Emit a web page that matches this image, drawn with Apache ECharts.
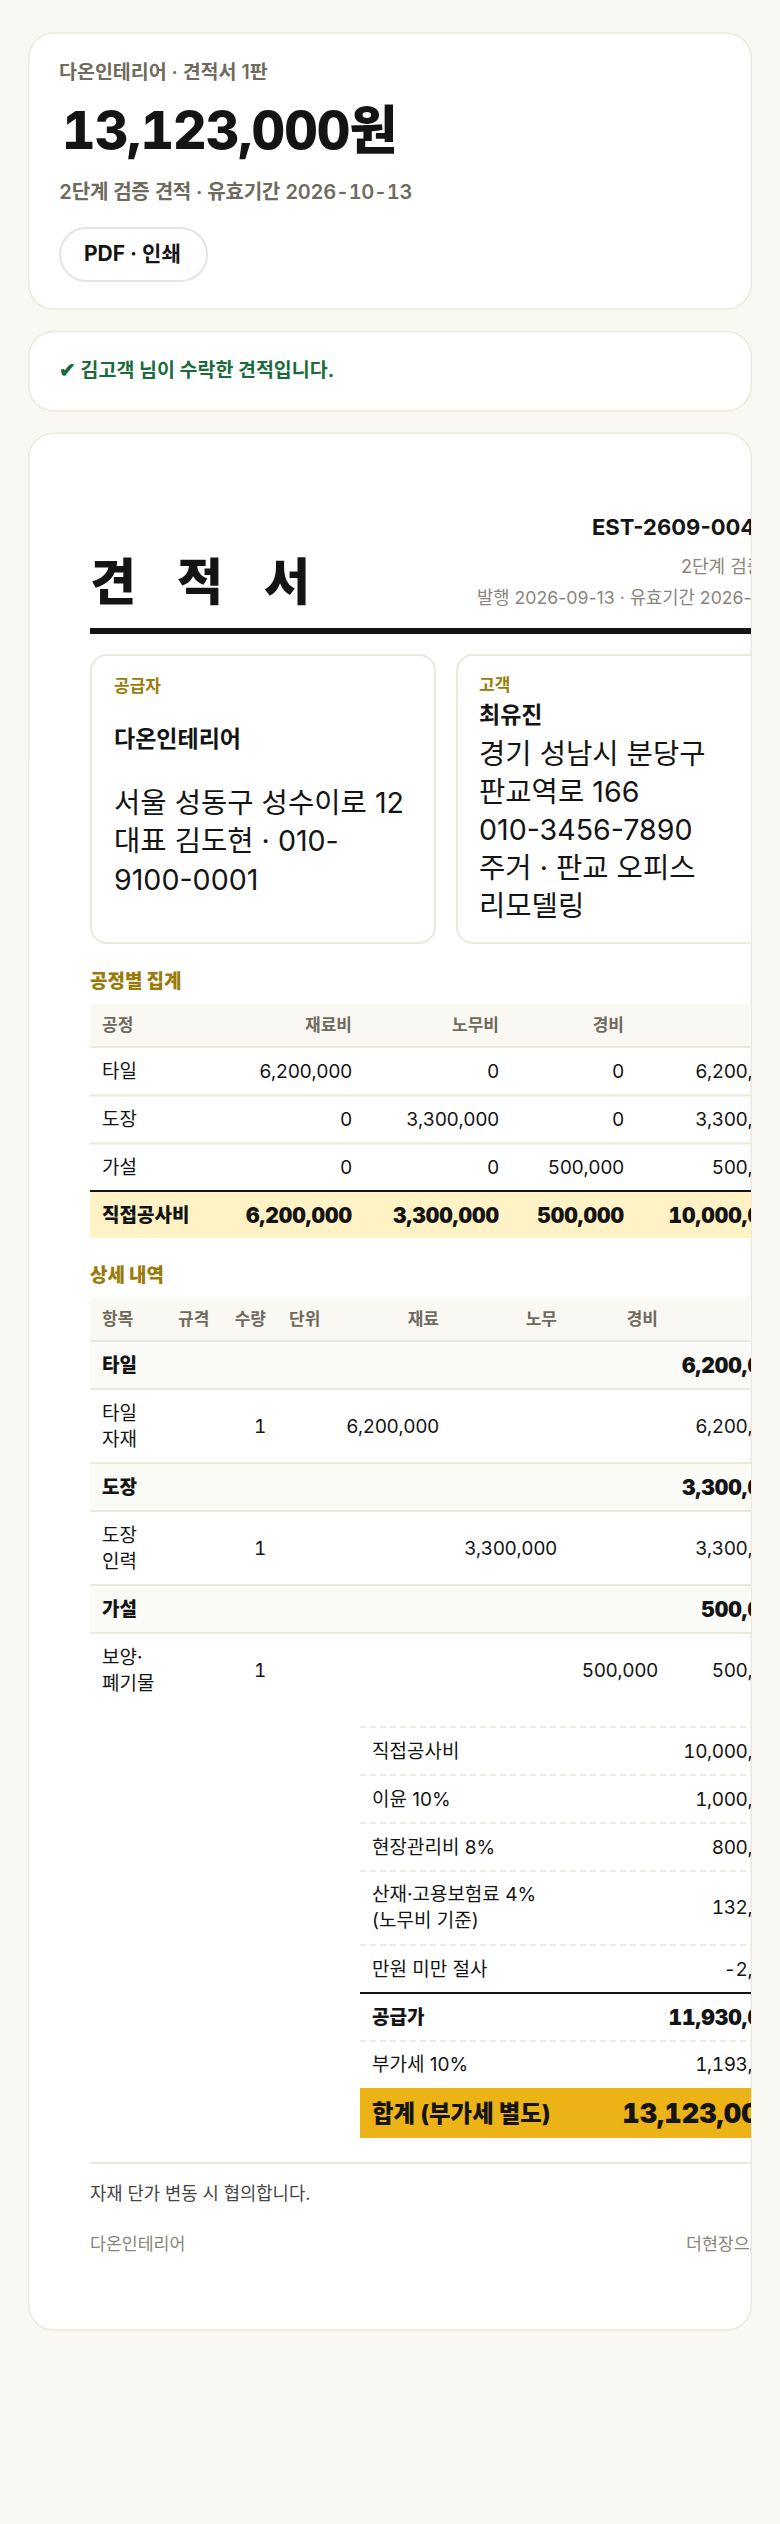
<!DOCTYPE html>
<html lang="ko">
<head>
<meta charset="utf-8">
<title>견적서</title>
<script src="https://cdn.jsdelivr.net/npm/echarts@6/dist/echarts.min.js"></script>
<style>
html,body{margin:0;padding:0;background:#f9f8f3}
#main{width:780px;height:2524px}
/* 금액만 고정폭 숫자 */
#main svg text[style*="Roboto"]{font-variant-numeric:tabular-nums !important;font-feature-settings:"tnum" !important}
#main svg text[style*="Roboto"][style*="19px"]{letter-spacing:-.4px}
#main svg text[style*="Roboto"][style*="52px"]{letter-spacing:-.9px}
#main svg text[style*="Roboto"][style*="20.1px"]{letter-spacing:-.3px}
</style>
</head>
<body>
<div id="main"></div>
<script>
// 공정별 집계
var processNames = ['타일', '도장', '가설'];
var materialCost = [6200000, 0, 0];
var laborCost = [0, 3300000, 0];
var expenseCost = [0, 0, 500000];
var processTotal = [6200000, 3300000, 500000];
var directTotal = [6200000, 3300000, 500000, 10000000];
var summaryHead = ['공정', '재료비', '노무비', '경비', '합계'];

// 상세 내역
var detailHead = ['항목', '규격', '수량', '단위', '재료', '노무', '경비', '금액'];
var detailItems = [['타일', '자재'], ['도장', '인력'], ['보양·', '폐기물']];
var detailQty = [1, 1, 1];

// 합계 계산
var costLabels = [['직접공사비'], ['이윤 10%'], ['현장관리비 8%'], ['산재·고용보험료 4%', '(노무비 기준)'], ['만원 미만 절사']];
var costValues = [10000000, 1000000, 800000, 132000, -2000];
var supplyPrice = 11930000;
var vatAmount = 1193000;
var grandTotal = 13123000;

// 문서 텍스트
var supplierLines = ['서울 성동구 성수이로 12', '대표 김도현 · 010-', '9100-0001'];
var clientLines = ['경기 성남시 분당구', '판교역로 166', '010-3456-7890', '주거 · 판교 오피스', '리모델링'];
var titleChars = ['견', '적', '서'];

var FONT = 'Inter, "Noto Sans CJK KR", sans-serif';
var NUMFONT = 'Inter, "Noto Sans CJK KR", Roboto';
var INK = '#141414', MUTED = '#6f6a5e', SOFT = '#8a857a', GOLD = '#9a7b0a', LINE = '#ece8df';

function won(v){ return v.toLocaleString('en-US') }

var cells = [];
function text(x, y, str, weight, size, color, align){
    cells.push({t:'text', x:x, y:y, str:str, font:weight+' '+size+'px '+FONT, color:color, align:align||'left'});
}
function num(x, y, str, weight, size, color, align){
    cells.push({t:'text', x:x, y:y, str:str, font:weight+' '+size+'px '+NUMFONT, color:color, align:align||'right'});
}
function rect(x, y, x2, y2, fill){
    cells.push({t:'rect', x:x, y:y, x2:x2, y2:y2, fill:fill, stroke:null});
}
function box(x, y, x2, y2, r, fill, stroke){
    cells.push({t:'rect', x:x, y:y, x2:x2, y2:y2, r:r, fill:fill, stroke:stroke});
}
function hline(x, y, x2, color, width, dash){
    cells.push({t:'line', x:x, y:y, x2:x2, y2:y, color:color, width:width, dash:dash});
}

// 상단 카드
text(59, 72, '다온인테리어 · 견적서 1판', 600, 19.5, MUTED);
num(62, 130, won(grandTotal)+'원', 800, 52, INK, 'left');
num(59, 192, '2단계 검증 견적 · 유효기간 2026-10-13', 600, 20.1, MUTED, 'left');
box(60, 228, 207, 281, 26.5, '#fff', '#e6e4df');
text(84, 253, 'PDF · 인쇄', 700, 21, INK);
text(59, 370, '✔ 김고객 님이 수락한 견적입니다.', 700, 19.5, '#1a6b3c');

// 문서 머리
text(592, 527, 'EST-2609-0041', 700, 22, INK);
text(681, 566, '2단계 검증 견적', 400, 18, SOFT);
text(477, 597, '발행 2026-09-13 · 유효기간 2026-10-13', 400, 17.7, SOFT);
titleChars.forEach(function(c, i){ text(90 + i*87, 582, c, 900, 50, INK) });
rect(90, 628, 790, 634, INK);

// 공급자, 고객
box(91, 655, 435, 943, 16, '#fff', LINE);
box(457, 655, 802, 943, 16, '#fff', LINE);
text(114, 686, '공급자', 600, 17, GOLD);
text(114, 739, '다온인테리어', 700, 23, INK);
supplierLines.forEach(function(s, i){ text(114, 802 + i*38.5, s, 400, 28.6, INK) });
text(479, 685, '고객', 600, 17, GOLD);
text(479, 715, '최유진', 700, 23, INK);
clientLines.forEach(function(s, i){ text(479, 753 + i*38, s, 400, 28.6, INK) });

// 공정별 집계
var sumRight = [352, 499, 624, 788];
text(90, 981, '공정별 집계', 800, 19, GOLD);
rect(90, 1004, 790, 1046, '#f9f8f3');
hline(90, 1047, 790, LINE, 2);
text(102, 1025, summaryHead[0], 600, 17, MUTED);
sumRight.forEach(function(r, i){ text(r, 1025, summaryHead[i+1], 600, 17, MUTED, 'right') });
processNames.forEach(function(name, i){
    var y = 1071 + i*48;
    text(102, y, name, 400, 19, INK);
    [materialCost[i], laborCost[i], expenseCost[i], processTotal[i]].forEach(function(v, j){
        num(sumRight[j], y, won(v), 400, 19, INK);
    });
    if(i < processNames.length-1) hline(90, y+24.5, 790, LINE, 2);
});
rect(90, 1191, 790, 1238, '#fff3c6');
hline(90, 1191, 790, INK, 2);
text(102, 1215, '직접공사비', 800, 19, INK);
directTotal.forEach(function(v, j){ num(sumRight[j], 1215, won(v), 900, 21, INK) });

// 상세 내역
var costRight = [439, 557, 658];
var detailCosts = [materialCost[0], laborCost[1], expenseCost[2]];
text(90, 1275, '상세 내역', 800, 19, GOLD);
rect(90, 1298, 790, 1340, '#f9f8f3');
hline(90, 1341, 790, LINE, 2);
text(102, 1319, detailHead[0], 600, 17, MUTED);
text(178, 1319, detailHead[1], 600, 17, MUTED);
text(266, 1319, detailHead[2], 600, 17, MUTED, 'right');
text(289, 1319, detailHead[3], 600, 17, MUTED);
costRight.forEach(function(r, i){ text(r, 1319, detailHead[i+4], 600, 17, MUTED, 'right') });
text(788, 1319, detailHead[7], 600, 17, MUTED, 'right');
processNames.forEach(function(name, i){
    var top = 1342 + i*122;
    rect(90, top, 790, top+46, '#fafaf7');
    hline(90, top+47, 790, LINE, 2);
    text(102, top+23, name, 800, 19, INK);
    num(788, top+23, won(processTotal[i]), 900, 21, INK);
    detailItems[i].forEach(function(s, k){ text(102, top+71+k*26, s, 400, 19, INK) });
    num(266, top+84, String(detailQty[i]), 400, 19, INK);
    num(costRight[i], top+84, won(detailCosts[i]), 400, 19, INK);
    num(788, top+84, won(detailCosts[i]), 400, 19, INK);
    if(i < processNames.length-1) hline(90, top+121, 790, LINE, 2);
});

// 합계 계산
var rowEdges = [1727, 1775, 1823, 1871, 1945];
costLabels.forEach(function(lines, i){
    hline(360, rowEdges[i], 790, LINE, 2, [6, 4]);
    var cy = rowEdges[i] + (lines.length > 1 ? 36 : 24);
    lines.forEach(function(s, k){ text(372, cy - 13*(lines.length-1) + k*26, s, 400, 19, INK) });
    num(788, cy, won(costValues[i]), 400, 19, INK);
});
hline(360, 1993, 790, INK, 2);
text(372, 2017, '공급가', 800, 19, INK);
num(788, 2017, won(supplyPrice), 900, 21, INK);
hline(360, 2041, 790, LINE, 2, [6, 4]);
text(372, 2064, '부가세 10%', 400, 19, INK);
num(788, 2064, won(vatAmount), 400, 19, INK);
rect(360, 2088, 790, 2138, '#ecb316');
text(372, 2113, '합계 (부가세 별도)', 800, 23.4, INK);
num(776, 2113, won(grandTotal), 900, 27, INK);

// 꼬리말
hline(90, 2163, 790, LINE, 2);
text(90, 2193, '자재 단가 변동 시 협의합니다.', 400, 17.7, '#444');
text(90, 2243, '다온인테리어', 400, 17.3, SOFT);
text(686, 2243, '더현장으로 작성', 400, 17.3, SOFT);

function renderCell(params, api){
    var c = cells[params.dataIndex];
    var p = api.coord([c.x, c.y]);
    if(c.t === 'text'){
        return {type:'text', x:p[0], y:p[1], style:{text:c.str, font:c.font, fill:c.color, textAlign:c.align, textVerticalAlign:'middle'}};
    }
    var q = api.coord([c.x2, c.y2]);
    if(c.t === 'line'){
        return {type:'line', shape:{x1:p[0], y1:p[1], x2:q[0], y2:q[1]}, style:{stroke:c.color, lineWidth:c.width, lineDash:c.dash || null}};
    }
    return {type:'rect', shape:{x:p[0], y:p[1], width:q[0]-p[0], height:q[1]-p[1], r:c.r || 0},
        style:{fill:c.fill, stroke:c.stroke, lineWidth:c.stroke ? 2 : 0}};
}

function card(y, y2){
    return {type:'rect', z:0, silent:true, shape:{x:28.75, y:y, width:722.5, height:y2-y, r:25},
        style:{fill:'#fff', stroke:LINE, lineWidth:1.5}};
}

var myChart = echarts.init(document.getElementById('main'), null, {renderer:'svg'});
myChart.setOption({
    backgroundColor:'#f9f8f3',
    animation:false,
    tooltip:{show:false},
    graphic:[card(33, 309), card(331.5, 411), card(433.25, 2330)],
    grid:{left:0, top:0, width:750.5, height:2524},
    xAxis:{type:'value', min:0, max:750.5, show:false},
    yAxis:{type:'value', min:0, max:2524, inverse:true, show:false},
    series:[{
        type:'custom',
        silent:true,
        clip:true,
        renderItem:renderCell,
        data:cells.map(function(c){ return [c.x, c.y] })
    }]
});
</script>
</body>
</html>
